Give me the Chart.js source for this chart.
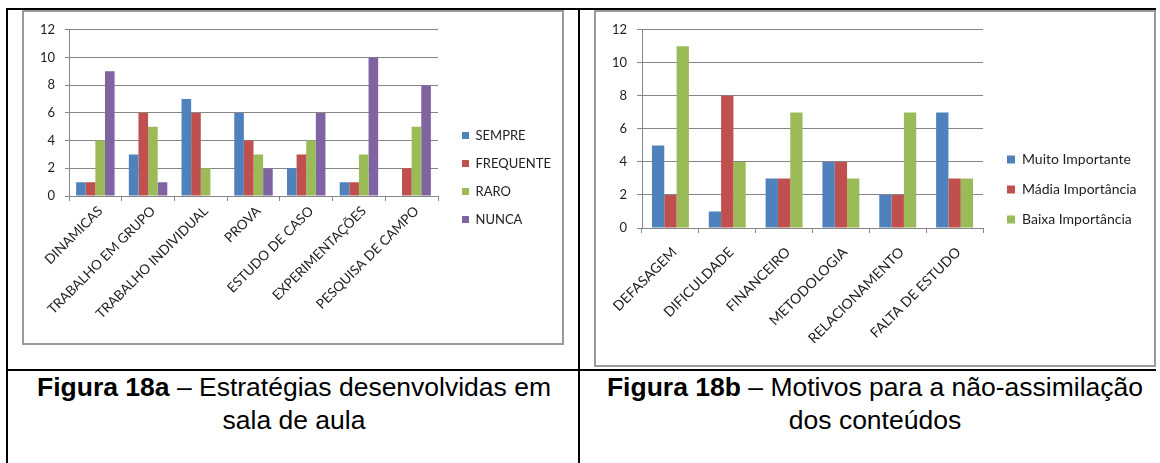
<!DOCTYPE html>
<html lang="pt">
<head>
  <meta charset="UTF-8">
  <title>Figura 18a / 18b</title>
  <script src="https://cdn.jsdelivr.net/npm/chart.js"></script>
  <style>
    body {
      margin: 0;
      width: 1160px;
      height: 463px;
      overflow: hidden;
      background: #fff;
      position: relative;
      font-family: "Liberation Sans", Arial, sans-serif;
    }
    .line { position: absolute; background: #000; }
    .frame {
      position: absolute;
      border: 2px solid #9a9a9a;
      background: #fff;
    }
    .frame canvas { display: block; }
    .caption {
      position: absolute;
      top: 371px;
      font-size: 26.5px;
      line-height: 33px;
      text-align: center;
      color: #000;
    }
  </style>
</head>
<body>
  <!-- bordas da tabela -->
  <div class="line" style="left:6px; top:8px; width:1150px; height:2px;"></div>
  <div class="line" style="left:6px; top:8px; width:2px; height:455px;"></div>
  <div class="line" style="left:578px; top:8px; width:2px; height:455px;"></div>
  <div class="line" style="left:6px; top:369px; width:1150px; height:2px;"></div>

  <div class="frame" style="left:22px; top:10px; width:538px; height:331px;">
    <canvas id="chartA" width="538" height="331"></canvas>
  </div>
  <div class="frame" style="left:594px; top:10px; width:558px; height:353px;">
    <canvas id="chartB" width="558" height="353"></canvas>
  </div>

  <div class="caption" style="left:8px; width:572px;"><b>Figura 18a</b> – Estratégias desenvolvidas em<br>sala de aula</div>
  <div class="caption" style="left:580px; width:590px;"><b>Figura 18b</b> – Motivos para a não-assimilação<br>dos conteúdos</div>

  <script>
    // Figura 18a
    const estrategias = ["DINAMICAS", "TRABALHO EM GRUPO", "TRABALHO INDIVIDUAL", "PROVA", "ESTUDO DE CASO", "EXPERIMENTAÇÕES", "PESQUISA DE CAMPO"];
    const sempre    = [1, 3, 7, 6, 2, 1, 0];
    const frequente = [1, 6, 6, 4, 3, 1, 2];
    const raro      = [4, 5, 2, 3, 4, 3, 5];
    const nunca     = [9, 1, 0, 2, 6, 10, 8];

    // Figura 18b
    const motivos = ["DEFASAGEM", "DIFICULDADE", "FINANCEIRO", "METODOLOGIA", "RELACIONAMENTO", "FALTA DE ESTUDO"];
    const muitoImportante  = [5, 1, 3, 4, 2, 7];
    const mediaImportancia = [2, 8, 3, 4, 2, 3];
    const baixaImportancia = [11, 4, 7, 3, 7, 3];

    const yMax = 12;
    const yStep = 2;

    const BLUE = "#4F81BD", RED = "#C0504D", GREEN = "#9BBB59", PURPLE = "#8064A2";
    const GRID = "#868686";

    Chart.defaults.font.family = "Lato, 'Open Sans', sans-serif";
    Chart.defaults.color = "#222";

    // cria um grafico de barras no estilo do Excel
    const makeChart = (id, labels, datasets, o) => {
      const chart = new Chart(document.getElementById(id), {
        type: "bar",
        data: { labels: labels, datasets: datasets },
        options: {
          responsive: false,
          animation: false,
          devicePixelRatio: 1,
          categoryPercentage: o.catPct,
          barPercentage: 1,
          layout: { padding: { left: 0, top: o.top, bottom: o.bottom, right: 0 } },
          plugins: {
            tooltip: { enabled: false },
            legend: {
              position: "right",
              maxWidth: 220,
              labels: {
                boxWidth: o.box,
                boxHeight: o.box,
                padding: o.legendPad,
                font: { size: o.legendFont },
                color: "#222"
              }
            }
          },
          scales: {
            x: {
              grid: { offset: true, drawOnChartArea: false, tickLength: 5, color: GRID },
              border: { color: GRID },
              ticks: {
                minRotation: 45, maxRotation: 45, autoSkip: false,
                padding: o.xPad, labelOffset: o.xShift, font: { size: o.xFont }
              },
              afterFit: (s) => { s.height = o.xHeight; }
            },
            y: {
              position: "left",
              min: 0,
              max: yMax,
              grid: { color: GRID, tickLength: o.yTick },
              border: { color: GRID },
              ticks: { stepSize: yStep, padding: 10, font: { size: o.yFont } },
              afterFit: (s) => { s.width = o.yWidth; }
            },
            // espaco vazio entre o grafico e a legenda
            gap: {
              type: "linear",
              axis: "y",
              position: "right",
              grid: { display: false, drawTicks: false },
              border: { display: false },
              ticks: { display: false },
              afterFit: (s) => { s.width = o.legendLeft - o.areaRight; }
            }
          }
        }
      });
      // segunda passada: ajusta o padding direito para a legenda cair no lugar certo
      chart.options.layout.padding.right = chart.width - o.legendLeft - chart.legend.width;
      chart.update();
      return chart;
    };

    makeChart("chartA", estrategias, [
      { label: "SEMPRE", data: sempre, backgroundColor: BLUE },
      { label: "FREQUENTE", data: frequente, backgroundColor: RED },
      { label: "RARO", data: raro, backgroundColor: GREEN },
      { label: "NUNCA", data: nunca, backgroundColor: PURPLE }
    ], {
      catPct: 0.73, top: 15, bottom: 15, areaRight: 414, legendLeft: 423,
      box: 7, legendPad: 15, legendFont: 13,
      xFont: 13.5, xPad: 2, xShift: 5, xHeight: 132, yFont: 13, yTick: 4, yWidth: 45
    });

    makeChart("chartB", motivos, [
      { label: "Muito Importante", data: muitoImportante, backgroundColor: BLUE },
      { label: "Mádia Importância", data: mediaImportancia, backgroundColor: RED },
      { label: "Baixa Importância", data: baixaImportancia, backgroundColor: GREEN }
    ], {
      catPct: 0.65, top: 16, bottom: 14, areaRight: 387, legendLeft: 395,
      box: 8, legendPad: 16, legendFont: 14,
      xFont: 14, xPad: 11, xShift: 4, xHeight: 123, yFont: 13, yTick: 5, yWidth: 46
    });
  </script>
</body>
</html>
